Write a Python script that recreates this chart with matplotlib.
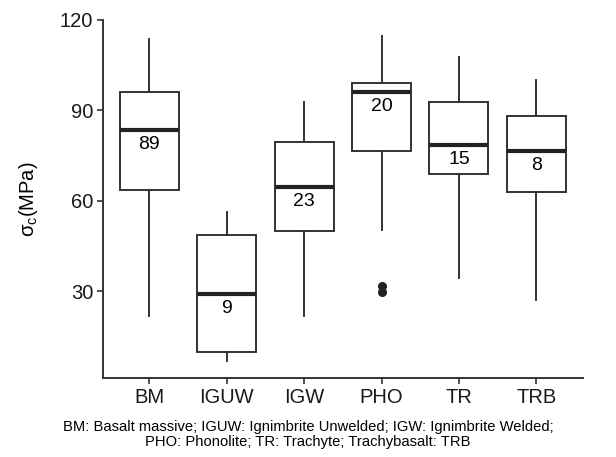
#!/usr/bin/env python3
import numpy as np
import matplotlib
matplotlib.use("Agg")
import matplotlib.pyplot as plt

plt.rcParams['font.family'] = ['Liberation Sans', 'DejaVu Sans']
plt.rcParams['mathtext.fontset'] = 'custom'
plt.rcParams['mathtext.rm'] = 'Liberation Sans'
plt.rcParams['mathtext.it'] = 'Liberation Sans'

# values (MPa)
rocks = ["BM", "IGUW", "IGW", "PHO", "TR", "TRB"]
whislo = [21.9, 6.7, 21.9, 50.3, 34.2, 27.1]
q1 = [63.5, 9.7, 49.9, 76.5, 68.8, 63.0]
med = [83.3, 29.1, 64.4, 96.1, 78.3, 76.6]
q3 = [95.9, 48.7, 79.4, 99.1, 92.6, 88.0]
whishi = [113.5, 56.2, 92.8, 114.6, 107.7, 100.0]
outliers = [[], [], [], [31.8, 29.8], [], []]
counts = [89, 9, 23, 20, 15, 8]

caption = ("BM: Basalt massive; IGUW: Ignimbrite Unwelded; IGW: Ignimbrite Welded;\n"
           "PHO: Phonolite; TR: Trachyte; Trachybasalt: TRB")

fig = plt.figure(figsize=(6.16, 4.57), dpi=100)
ax = fig.add_axes([0.167, 0.173, 0.779, 0.784])

stats = []
for i in range(len(rocks)):
    stats.append(dict(whislo=whislo[i], q1=q1[i], med=med[i], q3=q3[i],
                      whishi=whishi[i], fliers=outliers[i], label=rocks[i]))

pos = np.arange(1, len(rocks) + 1)
ax.bxp(stats, positions=pos, widths=0.76, showcaps=False, patch_artist=True,
       boxprops=dict(facecolor='white', edgecolor='#333333', linewidth=1.4),
       whiskerprops=dict(color='#333333', linewidth=1.4),
       medianprops=dict(color='#222222', linewidth=3.0, solid_capstyle='butt'),
       flierprops=dict(marker='o', markerfacecolor='#222222', markeredgecolor='#222222',
                       markersize=5.5))

for p, m, n in zip(pos, med, counts):
    ax.text(p, m - 4.8, str(n), ha='center', va='center', fontsize=14, color='black')

ax.set_xlim(0.4, 6.6)
ax.set_ylim(1.2, 120)
ax.set_yticks([30, 60, 90, 120])
ax.set_xticks(pos)
ax.set_xticklabels(rocks)
for s in ['top', 'right']:
    ax.spines[s].set_visible(False)
for s in ['left', 'bottom']:
    ax.spines[s].set_linewidth(1.4)
    ax.spines[s].set_color('#333333')
ax.tick_params(axis='both', length=4, width=1.2, color='#333333',
               labelsize=14.5, labelcolor='#1a1a1a', pad=3)

ax.set_ylabel(r'$\sigma_c$(MPa)', fontsize=14.5, labelpad=14)

fig.text(0.5, 0.049, caption, ha='center', va='center', fontsize=10.6,
         family=['Liberation Sans Narrow', 'Liberation Sans'], linespacing=1.05)

fig.savefig("out.png", dpi=100)
